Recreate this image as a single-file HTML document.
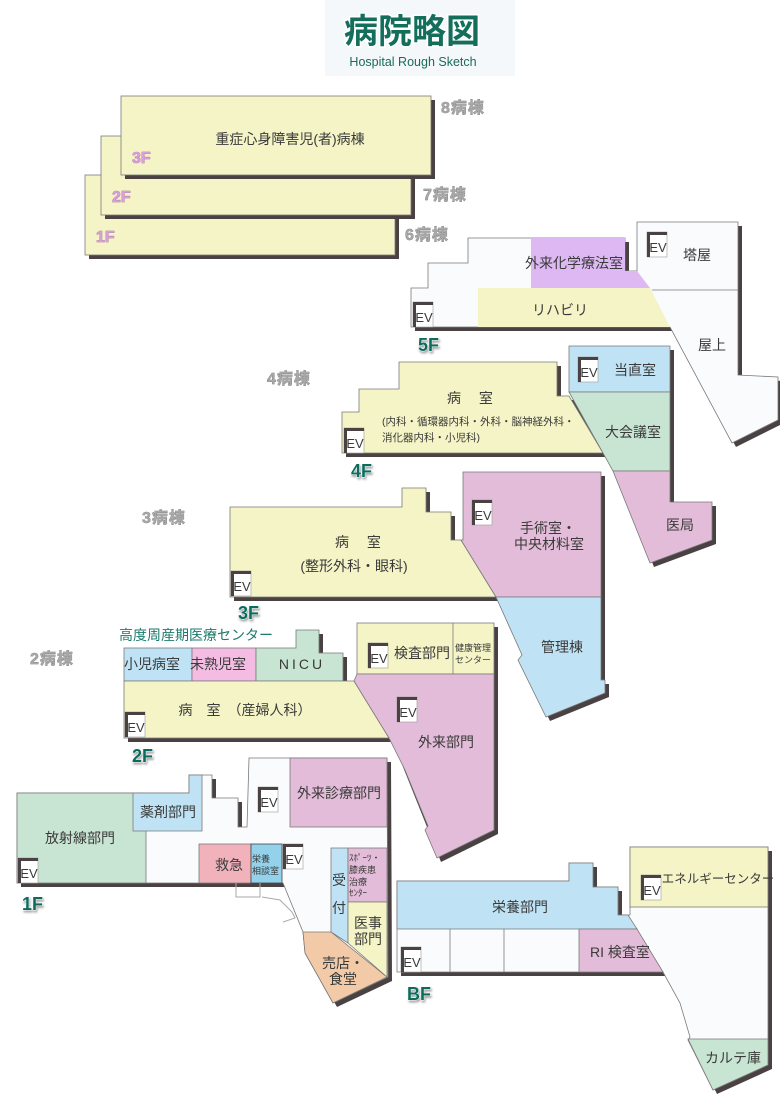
<!DOCTYPE html>
<html><head><meta charset="utf-8"><style>
html,body{margin:0;padding:0;background:#fff}
svg{display:block}
text{font-family:"Liberation Sans","Noto Sans CJK JP",sans-serif;fill:#3a3a3a}
.l{font-size:14px}
.s{font-size:10.5px}
.b{font-size:16px;font-weight:bold;fill:#a8a8a8;stroke:#6a6a6a;stroke-width:0.5;paint-order:stroke;letter-spacing:1px}
.f{font-size:18px;font-weight:bold;fill:#0d6b5e;stroke:#fff;stroke-width:1;paint-order:stroke;filter:drop-shadow(1px 2px 1px rgba(0,0,0,0.35))}
.p{font-size:16px;font-weight:bold;fill:#d8a0d8;stroke:#a060a0;stroke-width:0.6;paint-order:stroke}
.sh{fill:#4a4242}
.o{stroke:#7a7a7a;stroke-width:0.8}
</style></head><body>
<svg width="780" height="1103" viewBox="0 0 780 1103" xmlns="http://www.w3.org/2000/svg">
<defs>
<g id="ev"><rect x="0" y="0" width="20" height="25" fill="#fff" stroke="#999" stroke-width="0.6"/><rect x="0" y="0" width="20" height="3" fill="#4a4242"/><rect x="0" y="0" width="3" height="25" fill="#4a4242"/><text x="11" y="20" text-anchor="middle" fill="#333" style="font-size:13px">EV</text></g>
</defs>
<!-- title -->
<rect x="325" y="0" width="190" height="76" fill="#f5f8fa"/>
<text x="412" y="43" text-anchor="middle" style="font-size:34px;font-weight:bold;fill:#146e5c;stroke:#fff;stroke-width:3;paint-order:stroke">病院略図</text>
<text x="413" y="66" text-anchor="middle" style="font-size:12.5px;fill:#1a6a5c">Hospital Rough Sketch</text>

<!-- 6-8 wards -->
<rect x="89" y="179" width="310" height="80" class="sh"/>
<rect x="85" y="175" width="310" height="80" fill="#f4f4c6" class="o"/>
<rect x="105" y="140" width="310" height="79" class="sh"/>
<rect x="101" y="136" width="310" height="79" fill="#f4f4c6" class="o"/>
<rect x="125" y="100" width="310" height="79" class="sh"/>
<rect x="121" y="96" width="310" height="79" fill="#f4f4c6" class="o"/>
<text x="290" y="144" class="l" text-anchor="middle">重症心身障害児(者)病棟</text>
<text x="132" y="163" class="p">3F</text>
<text x="112" y="202" class="p">2F</text>
<text x="96" y="242" class="p">1F</text>
<text x="441" y="113" class="b">8病棟</text>
<text x="423" y="200" class="b">7病棟</text>
<text x="405" y="240" class="b">6病棟</text>

<!-- 5F -->
<g transform="translate(4,4)" class="sh"><polygon points="411,288 428,288 428,263 468,263 468,238 625,238 625,271 637,271 637,222 738,222 738,375 778,377 778,420 732,443 670,327 411,327"/></g>
<polygon points="411,288 428,288 428,263 468,263 468,238 625,238 625,271 637,271 637,222 738,222 738,375 778,377 778,420 732,443 670,327 411,327" fill="#fafbfd" class="o"/>
<polygon points="531,238 625,238 625,271 637,271 650,288 531,288" fill="#ddb8f2"/>
<polygon points="478,288 650,288 670,327 478,327" fill="#f4f4c6"/>
<line x1="652" y1="290" x2="738" y2="290" class="o"/>
<use href="#ev" x="647" y="232"/>
<use href="#ev" x="413" y="302"/>
<text x="574" y="268" class="l" text-anchor="middle">外来化学療法室</text>
<text x="697" y="260" class="l" text-anchor="middle">塔屋</text>
<text x="560" y="315" class="l" text-anchor="middle">リハビリ</text>
<text x="712" y="350" class="l" text-anchor="middle">屋上</text>
<text x="418" y="351" class="f">5F</text>

<!-- 4F -->
<g transform="translate(4,4)" class="sh"><polygon points="342,412 359,412 359,389 399,389 399,362 557,362 557,396 569,396 569,346 670,346 670,502 712,502 712,540 650,563 613,471 603,453 342,453"/></g>
<polygon points="342,412 359,412 359,389 399,389 399,362 557,362 557,396 569,396 603,453 342,453" fill="#f4f4c6" class="o"/>
<polygon points="569,346 670,346 670,392 569,392" fill="#bfe3f4" class="o"/>
<polygon points="569,392 670,392 670,471 613,471" fill="#c8e4d3" class="o"/>
<polygon points="613,471 670,471 670,502 712,502 712,540 650,563" fill="#e2bcd8" class="o"/>
<use href="#ev" x="578" y="357"/>
<use href="#ev" x="344" y="428"/>
<text x="635" y="375" class="l" text-anchor="middle">当直室</text>
<text x="633" y="437" class="l" text-anchor="middle">大会議室</text>
<text x="680" y="530" class="l" text-anchor="middle">医局</text>
<text x="470" y="403" class="l" text-anchor="middle">病　 室</text>
<text x="382" y="425" class="s">(内科・循環器内科・外科・脳神経外科・</text>
<text x="382" y="441" class="s">消化器内科・小児科)</text>
<text x="351" y="477" class="f">4F</text>
<text x="267" y="384" class="b">4病棟</text>

<!-- 3F -->
<g transform="translate(4,4)" class="sh"><polygon points="230,507 402,507 402,488 426,488 426,512 451,512 451,540 463,540 463,472 601,472 601,680 605,680 605,693 546,717 518,660 522,655 496,597 230,597"/></g>
<polygon points="230,507 402,507 402,488 426,488 426,512 451,512 451,540 461,540 496,597 230,597" fill="#f4f4c6" class="o"/>
<polygon points="463,472 601,472 601,597 496,597 461,540 463,540" fill="#e2bcd8" class="o"/>
<polygon points="496,597 601,597 601,680 605,680 605,693 546,717 518,660 522,655" fill="#bfe3f4" class="o"/>
<use href="#ev" x="231" y="571"/>
<use href="#ev" x="472" y="500"/>
<text x="358" y="547" class="l" text-anchor="middle">病　 室</text>
<text x="354" y="571" class="l" text-anchor="middle">(整形外科・眼科)</text>
<text x="548" y="533" class="l" text-anchor="middle">手術室・</text>
<text x="549" y="549" class="l" text-anchor="middle">中央材料室</text>
<text x="562" y="652" class="l" text-anchor="middle">管理棟</text>
<text x="238" y="619" class="f">3F</text>
<text x="142" y="523" class="b">3病棟</text>

<!-- 2F -->
<text x="119" y="640" style="font-size:14px;fill:#1a7a6a">高度周産期医療センター</text>
<g transform="translate(4,4)" class="sh"><polygon points="124,648 296,648 296,630 319,630 319,653 343,653 343,681 354,681 357,623 494,623 494,830 437,858 389,738 124,738"/></g>
<rect x="124" y="648" width="68" height="33" fill="#bfe3f4" class="o"/>
<rect x="192" y="648" width="64" height="33" fill="#f4bce2" class="o"/>
<polygon points="256,648 296,648 296,630 319,630 319,653 343,653 343,681 256,681" fill="#c8e4d3" class="o"/>
<polygon points="124,681 354,681 389,738 124,738" fill="#f4f4c6" class="o"/>
<rect x="357" y="623" width="137" height="51" fill="#f4f4c6" class="o"/>
<line x1="453" y1="623" x2="453" y2="674" class="o"/>
<polygon points="354,681 357,674 494,674 494,830 437,858 425,830 428,826 405,770 389,738" fill="#e2bcd8" class="o"/>
<use href="#ev" x="368" y="643"/>
<use href="#ev" x="397" y="697"/>
<use href="#ev" x="125" y="712"/>
<text x="152" y="669" class="l" text-anchor="middle">小児病室</text>
<text x="218" y="669" class="l" text-anchor="middle">未熟児室</text>
<text x="302" y="669" class="l" text-anchor="middle" style="letter-spacing:3px">NICU</text>
<text x="245" y="715" class="l" text-anchor="middle">病　室　（産婦人科）</text>
<text x="422" y="658" class="l" text-anchor="middle">検査部門</text>
<text x="473" y="651" style="font-size:9px" text-anchor="middle">健康管理</text>
<text x="473" y="663" style="font-size:9px" text-anchor="middle">センター</text>
<text x="446" y="747" class="l" text-anchor="middle">外来部門</text>
<text x="132" y="762" class="f">2F</text>
<text x="30" y="664" class="b">2病棟</text>

<!-- 1F -->
<g transform="translate(4,4)" class="sh"><polygon points="17,793 189,793 189,775 212,775 212,798 238,798 238,827 247,827 249,758 387,758 388,977 333,1003 305,953 303,932 283,883 17,883"/></g>
<polygon points="17,793 189,793 189,775 212,775 212,798 238,798 238,827 247,827 249,758 387,758 388,977 333,1003 305,953 303,932 283,883 17,883" fill="#fafbfd" class="o"/>
<rect x="17" y="793" width="129" height="90" fill="#c8e4d3" class="o"/>
<polygon points="133,793 189,793 189,775 202,775 202,831 133,831" fill="#bfe3f4" class="o"/>
<rect x="290" y="758" width="97" height="69" fill="#e2bcd8" class="o"/>
<rect x="199" y="844" width="52" height="39" fill="#f2b2bc" class="o"/>
<rect x="251" y="844" width="31" height="39" fill="#94d2ec" stroke="#444" stroke-width="0.8"/>
<polygon points="331,848 348,848 348,943 331,932" fill="#bfe3f4" class="o"/>
<rect x="348" y="848" width="39" height="54" fill="#e2bcd8" class="o"/>
<polygon points="348,902 387,902 387,977 348,943" fill="#f4f4c6" class="o"/>
<polygon points="303,932 331,932 387,977 333,1003 305,953" fill="#f2caa8" class="o"/>
<polyline points="236,883 236,897 260,897 260,883" fill="none" stroke="#aaa" stroke-width="1"/>
<polyline points="262,897 280,900 292,912 295,918 283,922" fill="none" stroke="#aaa" stroke-width="1"/>
<use href="#ev" x="258" y="787"/>
<use href="#ev" x="283" y="844"/>
<use href="#ev" x="18" y="858"/>
<text x="80" y="843" class="l" text-anchor="middle">放射線部門</text>
<text x="168" y="817" class="l" text-anchor="middle">薬剤部門</text>
<text x="339" y="798" class="l" text-anchor="middle">外来診療部門</text>
<text x="229" y="870" class="l" text-anchor="middle">救急</text>
<text x="252" y="862" style="font-size:9px">栄養</text>
<text x="252" y="874" style="font-size:9px">相談室</text>
<text x="339" y="885" class="l" text-anchor="middle">受</text>
<text x="339" y="913" class="l" text-anchor="middle">付</text>
<text x="349" y="861" style="font-size:9px">ｽﾎﾟｰﾂ・</text>
<text x="349" y="873" style="font-size:9px">膝疾患</text>
<text x="349" y="885" style="font-size:9px">治療</text>
<text x="349" y="896" style="font-size:9px">ｾﾝﾀｰ</text>
<text x="368" y="928" class="l" text-anchor="middle">医事</text>
<text x="368" y="944" class="l" text-anchor="middle">部門</text>
<text x="343" y="968" class="l" text-anchor="middle">売店・</text>
<text x="343" y="984" class="l" text-anchor="middle">食堂</text>
<text x="22" y="910" class="f">1F</text>

<!-- BF -->
<g transform="translate(4,4)" class="sh"><polygon points="397,881 569,881 569,863 593,863 593,887 618,887 618,915 630,915 630,847 768,847 768,1065 713,1090 688,1040 690,1037 680,1003 663,972 397,972"/></g>
<polygon points="397,881 569,881 569,863 593,863 593,887 618,887 618,915 630,915 630,847 768,847 768,1065 713,1090 688,1040 690,1037 680,1003 663,972 397,972" fill="#fafbfd" class="o"/>
<polygon points="397,881 569,881 569,863 593,863 593,887 618,887 618,915 628,915 637,929 397,929" fill="#bfe3f4" class="o"/>
<polygon points="579,929 637,929 663,972 579,972" fill="#e2bcd8" class="o"/>
<line x1="450" y1="929" x2="450" y2="972" class="o"/>
<line x1="504" y1="929" x2="504" y2="972" class="o"/>
<rect x="630" y="847" width="138" height="60" fill="#f4f4c6" class="o"/>
<polygon points="688,1039 768,1039 768,1065 713,1090" fill="#c8e4d3" class="o"/>
<use href="#ev" x="641" y="875"/>
<use href="#ev" x="401" y="947"/>
<text x="520" y="912" class="l" text-anchor="middle">栄養部門</text>
<text x="620" y="957" class="l" text-anchor="middle">RI 検査室</text>
<text x="718" y="883" style="font-size:12.5px" text-anchor="middle">エネルギーセンター</text>
<text x="733" y="1063" class="l" text-anchor="middle">カルテ庫</text>
<text x="407" y="1000" class="f">BF</text>
</svg>
</body></html>
